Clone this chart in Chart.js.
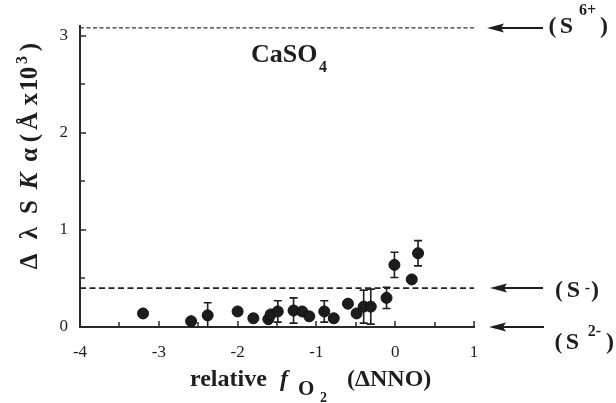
<!DOCTYPE html>
<html><head><meta charset="utf-8">
<script src="https://cdn.jsdelivr.net/npm/chart.js@4/dist/chart.umd.min.js"></script>
<style>html,body{margin:0;padding:0;background:#fff}</style>
</head><body>
<canvas id="c" width="616" height="403"></canvas>
<script>
// ---- data ----
const xValues = [-3.20,-2.59,-2.38,-2.00,-1.80,-1.61,-1.58,-1.49,-1.29,-1.18,-1.09,-0.90,-0.78,-0.60,-0.49,-0.40,-0.31,-0.11,-0.01,0.21,0.29];
const yValues = [0.14,0.06,0.12,0.16,0.09,0.08,0.13,0.16,0.17,0.16,0.11,0.16,0.09,0.24,0.14,0.21,0.21,0.30,0.64,0.49,0.76];
const yErrors = [0,0,0.13,0,0,0,0,0.11,0.13,0,0,0.11,0,0,0,0.17,0.18,0.11,0.13,0,0.13];
const refLevels = [3.08, 0.40, 0];
const refNames = ['S','S','S'];
const refCharges = ['6+','-','2-'];
const xTickMarks = [-4,-3.5,-3,-2.5,-2,-1.5,-1,-0.5,0,0.5,1];
const yTickMarks = [0,0.5,1,1.5,2,2.5,3];
const xRange = [-4, 1];
const yRange = [0, 3.1];

const INK = '#1e1e1e';
const SERIF = '"Liberation Serif","Times New Roman",serif';

const points = xValues.map((x,i)=>({x:x, y:yValues[i]}));

const decor = {
  id:'decor',
  beforeDatasetsDraw(chart){
    const ctx = chart.ctx, xs = chart.scales.x, ys = chart.scales.y;
    ctx.save();
    ctx.strokeStyle = '#2a2a2a';
    ctx.lineWidth = 1.5;
    const y0 = ys.getPixelForValue(yRange[0]);
    xTickMarks.forEach(v=>{
      const px = Math.round(xs.getPixelForValue(v));
      const len = Number.isInteger(v) ? 6 : 5;
      ctx.beginPath(); ctx.moveTo(px, y0); ctx.lineTo(px, y0-len); ctx.stroke();
    });
    const x0 = xs.getPixelForValue(xRange[0]);
    yTickMarks.forEach(v=>{
      const py = Math.round(ys.getPixelForValue(v));
      const len = Number.isInteger(v) ? 6 : 5;
      ctx.beginPath(); ctx.moveTo(x0, py); ctx.lineTo(x0+len, py); ctx.stroke();
    });
    ctx.strokeStyle = INK; ctx.lineWidth = 1.6;
    xValues.forEach((x,i)=>{
      const e = yErrors[i]; if(!e) return;
      const px = xs.getPixelForValue(x);
      const top = ys.getPixelForValue(yValues[i]+e);
      const bot = ys.getPixelForValue(Math.max(yRange[0], yValues[i]-e));
      ctx.beginPath();
      ctx.moveTo(px, top); ctx.lineTo(px, bot);
      ctx.moveTo(px-4, top); ctx.lineTo(px+4, top);
      if (yValues[i]-e > yRange[0]) { ctx.moveTo(px-4, bot); ctx.lineTo(px+4, bot); }
      ctx.stroke();
    });
    ctx.restore();
  },
  afterDraw(chart){
    const ctx = chart.ctx, ys = chart.scales.y;
    ctx.save();
    ctx.fillStyle = INK; ctx.strokeStyle = INK;
    ctx.textAlign = 'left'; ctx.textBaseline = 'alphabetic';
    const f = (sz, st) => (st||'bold') + ' ' + sz + 'px ' + SERIF;

    // x-axis title
    ctx.font = f(24); ctx.fillText('relative', 190, 386);
    ctx.font = f(24,'italic bold'); ctx.fillText('f', 280, 386);
    ctx.font = f(21); ctx.fillText('O', 298, 395);
    ctx.font = f(14); ctx.fillText('2', 320, 402);
    ctx.font = f(24); ctx.fillText('(\u0394NNO)', 347, 386);

    // y-axis title (rotated)
    ctx.save();
    ctx.translate(37, 273);
    ctx.rotate(-Math.PI/2);
    ctx.textAlign = 'center';
    const yt = [['\u0394',11.5,f(25)],['\u03bb',40,f(25)],['S',66,f(25)],['K',92,f(25,'italic bold')],
                ['\u03b1',118,f(25)],['(',135,f(25)],['\u00c5',152,f(25)],['x',174,f(25)],
                ['1',188,f(25)],['0',200,f(25)]];
    yt.forEach(([t,o,fn])=>{ ctx.font = fn; ctx.fillText(t, o, 0); });
    ctx.font = f(16); ctx.fillText('3', 213, -10);
    ctx.font = f(25); ctx.fillText(')', 226, 0);
    ctx.restore();

    // CaSO4 label
    ctx.font = f(26); ctx.fillText('CaSO', 251, 62);
    ctx.font = f(16); ctx.fillText('4', 319, 72);

    // arrows + oxidation-state labels
    const arrow = (tip, tail, y) => {
      ctx.lineWidth = 2;
      ctx.beginPath(); ctx.moveTo(tail, y); ctx.lineTo(tip+12, y); ctx.stroke();
      ctx.beginPath(); ctx.moveTo(tip, y); ctx.lineTo(tip+17, y-4.5); ctx.lineTo(tip+14, y); ctx.lineTo(tip+17, y+4.5); ctx.closePath(); ctx.fill();
    };
    const layouts = [
      {tip:487, tail:543, p1:552.5, s:566.5, sup:587.5, p2:604, base:33, supBase:15},
      {tip:490, tail:543, p1:559, s:573.5, sup:587.5, p2:595, base:297, supBase:293},
      {tip:489, tail:544, p1:558.5, s:572.5, sup:594.5, p2:610, base:349, supBase:336}
    ];
    ctx.textAlign = 'center';
    refLevels.forEach((lv,i)=>{
      const L = layouts[i];
      const y = Math.round(ys.getPixelForValue(lv));
      arrow(L.tip, L.tail, y);
      ctx.font = f(24);
      ctx.fillText('(', L.p1, L.base);
      ctx.fillText(refNames[i], L.s, L.base);
      ctx.fillText(')', L.p2, L.base);
      ctx.font = f(16);
      ctx.fillText(refCharges[i], L.sup, L.supBase);
    });
    ctx.restore();
  }
};

new Chart(document.getElementById('c'), {
  data: {
    datasets: [
      { type:'line', data:[{x:xRange[0],y:refLevels[0]},{x:xRange[1],y:refLevels[0]}],
        borderColor:'#333', borderWidth:1.3, borderDash:[4,2.5], pointRadius:0, fill:false },
      { type:'line', data:[{x:xRange[0],y:refLevels[1]},{x:xRange[1],y:refLevels[1]}],
        borderColor:'#222', borderWidth:1.8, borderDash:[6,3.5], pointRadius:0, fill:false },
      { type:'scatter', data: points, pointRadius:5.5, pointHoverRadius:5.5,
        backgroundColor:'#1c1c1c', borderColor:'#111', borderWidth:1 }
    ]
  },
  options: {
    responsive:false, animation:false, devicePixelRatio:1,
    layout:{ padding:{ left:59, right:142, top:26, bottom:42 } },
    plugins:{ legend:{display:false}, tooltip:{enabled:false} },
    scales:{
      x:{ type:'linear', min:xRange[0], max:xRange[1],
          afterFit:s=>{ s.height = 34; },
          grid:{ display:true, drawOnChartArea:false, drawTicks:false },
          border:{ display:true, color:'#2a2a2a', width:2 },
          ticks:{ stepSize:1, includeBounds:false, padding:15, color:INK, font:{family:SERIF, size:17},
                  callback:v=>Number.isInteger(v)? String(v): '' } },
      y:{ type:'linear', min:yRange[0], max:yRange[1],
          afterFit:s=>{ s.width = 21; },
          grid:{ display:true, drawOnChartArea:false, drawTicks:false },
          border:{ display:true, color:'#2a2a2a', width:2 },
          ticks:{ stepSize:1, includeBounds:false, padding:12, color:INK, font:{family:SERIF, size:17},
                  callback:v=>Number.isInteger(v)? String(v): '' } }
    }
  },
  plugins:[decor]
});
</script>
</body></html>
